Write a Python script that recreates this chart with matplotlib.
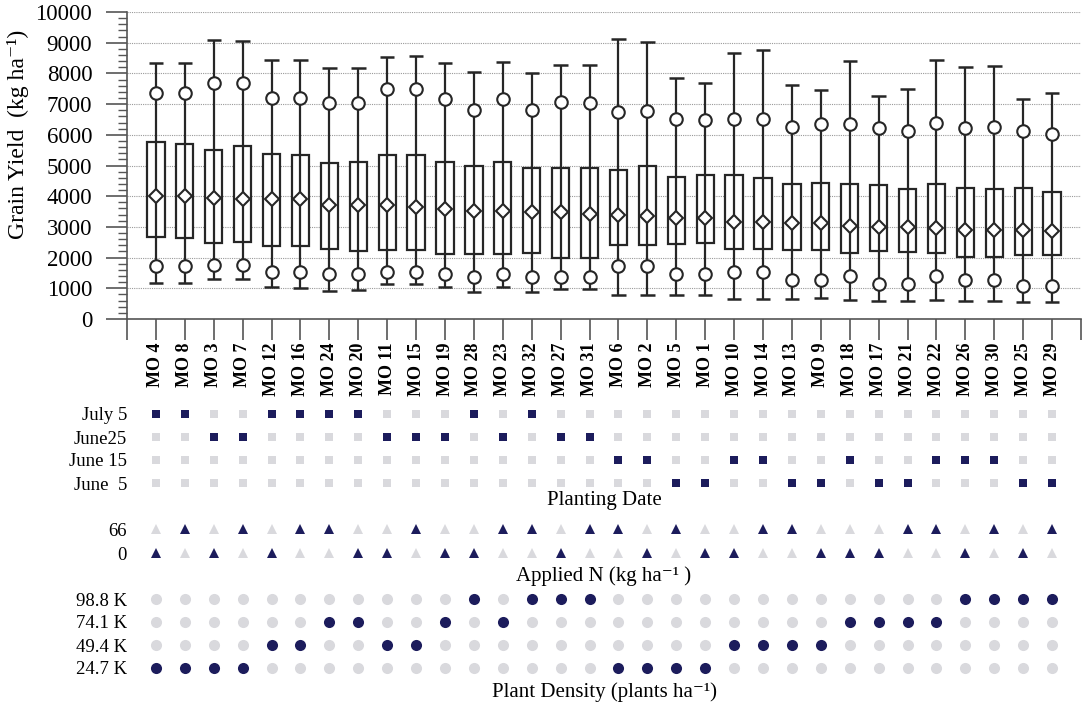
import matplotlib
matplotlib.use("Agg")
import matplotlib.pyplot as plt
from matplotlib.ticker import MultipleLocator, FixedLocator
import numpy as np

plt.rcParams['font.family'] = ['Liberation Serif', 'DejaVu Serif']

hybrids = ["MO 4", "MO 8", "MO 3", "MO 7", "MO 12", "MO 16", "MO 24", "MO 20",
           "MO 11", "MO 15", "MO 19", "MO 28", "MO 23", "MO 32", "MO 27", "MO 31",
           "MO 6", "MO 2", "MO 5", "MO 1", "MO 10", "MO 14", "MO 13", "MO 9",
           "MO 18", "MO 17", "MO 21", "MO 22", "MO 26", "MO 30", "MO 25", "MO 29"]

whisker_high = [8350, 8350, 9080, 9060, 8450, 8450, 8170, 8170, 8520, 8570, 8330, 8050,
                8360, 8020, 8260, 8260, 9130, 9030, 7840, 7680, 8670, 8750, 7610, 7450,
                8400, 7280, 7480, 8430, 8220, 8240, 7180, 7370]
p90 = [7370, 7360, 7680, 7700, 7200, 7200, 7020, 7020, 7490, 7500, 7170, 6820,
       7170, 6800, 7080, 7050, 6750, 6770, 6520, 6480, 6520, 6510, 6250, 6340,
       6350, 6210, 6130, 6370, 6210, 6270, 6110, 6030]
q3 = [5750, 5710, 5520, 5620, 5370, 5340, 5090, 5120, 5330, 5330, 5100, 4980,
      5100, 4930, 4930, 4930, 4850, 4990, 4620, 4680, 4700, 4590, 4400, 4420,
      4400, 4360, 4250, 4400, 4270, 4250, 4270, 4130]
mean = [4000, 4000, 3950, 3920, 3900, 3900, 3720, 3720, 3700, 3660, 3590, 3520,
        3510, 3500, 3470, 3430, 3400, 3360, 3300, 3280, 3170, 3160, 3140, 3120,
        3020, 2990, 2990, 2980, 2910, 2890, 2900, 2870]
q1 = [2670, 2650, 2460, 2500, 2370, 2370, 2270, 2210, 2250, 2250, 2120, 2120,
      2110, 2140, 2000, 2000, 2400, 2420, 2450, 2460, 2280, 2280, 2260, 2260,
      2140, 2200, 2180, 2150, 2020, 2010, 2090, 2080]
p10 = [1730, 1730, 1750, 1750, 1540, 1540, 1470, 1470, 1520, 1520, 1450, 1360,
       1450, 1360, 1380, 1380, 1730, 1730, 1460, 1460, 1520, 1520, 1270, 1270,
       1390, 1130, 1130, 1390, 1280, 1280, 1070, 1070]
whisker_low = [1180, 1180, 1300, 1300, 1030, 1010, 920, 940, 1140, 1140, 1030, 880,
               1030, 880, 980, 980, 780, 780, 770, 770, 660, 660, 660, 680,
               620, 580, 580, 620, 590, 590, 550, 550]

planting_dates = ["June  5", "June 15", "June25", "July 5"]
planting_idx = [3, 3, 2, 2, 3, 3, 3, 3, 2, 2, 2, 3, 2, 3, 2, 2,
                1, 1, 0, 0, 1, 1, 0, 0, 1, 0, 0, 1, 1, 1, 0, 0]
n_levels = ["0", "66"]
n_idx = [0, 1, 0, 1, 0, 1, 1, 0, 0, 1, 0, 0, 1, 1, 0, 1,
         1, 0, 1, 0, 0, 1, 1, 0, 0, 0, 1, 1, 0, 1, 0, 1]
densities = ["24.7 K", "49.4 K", "74.1 K", "98.8 K"]
density_idx = [0, 0, 0, 0, 1, 1, 2, 2, 1, 1, 2, 3, 2, 3, 3, 3,
               0, 0, 0, 0, 1, 1, 1, 1, 2, 2, 2, 2, 3, 3, 3, 3]

NAVY = "#1c1c5c"
LIGHT = "#d9d9dd"
LINE = "#262626"

W, H = 1084, 709
fig = plt.figure(figsize=(W / 100, H / 100), dpi=100)

def ax_px(left, top, right, bottom):
    return fig.add_axes([left / W, 1 - bottom / H, (right - left) / W, (bottom - top) / H])

x = np.arange(1, len(hybrids) + 1)
wh = np.array(whisker_high); wl = np.array(whisker_low)
b1 = np.array(q1); b3 = np.array(q3)

ax = ax_px(127, 12, 1081, 319)
ax.set_xlim(0, len(hybrids) + 1)
ax.set_ylim(0, 10000)
ax.yaxis.set_major_locator(MultipleLocator(1000))
ax.yaxis.set_minor_locator(MultipleLocator(200))
ax.grid(axis='y', which='major', linestyle=(0, (1, 1)), color='#9a9a9a', linewidth=0.8, zorder=0)
ax.set_axisbelow(True)
for s in ['top', 'right']:
    ax.spines[s].set_visible(False)
for s in ['left', 'bottom']:
    ax.spines[s].set_color('#555555')
    ax.spines[s].set_linewidth(1.2)

ax.vlines(x, wl, wh, color=LINE, linewidth=1.6, zorder=3)
ax.hlines(wh, x - 0.25, x + 0.25, color=LINE, linewidth=1.8, zorder=3)
ax.hlines(wl, x - 0.25, x + 0.25, color=LINE, linewidth=1.8, zorder=3)
ax.bar(x, b3 - b1, bottom=b1, width=0.6, facecolor='white', edgecolor=LINE, linewidth=1.6, zorder=2)
ax.plot(x, mean, linestyle='none', marker='D', markersize=7.5, markerfacecolor='white',
        markeredgecolor=LINE, markeredgewidth=1.5, zorder=4)
ax.plot(x, p90, linestyle='none', marker='o', markersize=9, markerfacecolor='white',
        markeredgecolor=LINE, markeredgewidth=1.5, zorder=4)
ax.plot(x, p10, linestyle='none', marker='o', markersize=9, markerfacecolor='white',
        markeredgecolor=LINE, markeredgewidth=1.5, zorder=4)

ax.set_xticks(x)
ax.set_xticklabels(hybrids, rotation=90, fontweight='bold', fontsize=13)
ax.xaxis.set_minor_locator(FixedLocator([0, len(hybrids) + 1]))
ax.tick_params(axis='x', which='both', direction='out', length=15, width=1.2, color='#555555', pad=2)
ax.tick_params(axis='y', which='major', direction='out', length=15, width=1.2, color='#555555',
               labelsize=16.5, pad=10)
ax.tick_params(axis='y', which='minor', direction='out', length=6.5, width=1.0, color='#555555')
ax.set_ylabel("Grain Yield  (kg ha\u207b\u00b9)", fontsize=17)
ax.yaxis.set_label_coords(-0.103, 0.6)

def indicator(top, bottom, levels, idx, marker, ms, title, title_y):
    a = ax_px(127, top, 1081, bottom)
    a.set_xlim(0, len(hybrids) + 1)
    a.set_ylim(-0.5, len(levels) - 0.5)
    for s in a.spines.values():
        s.set_visible(False)
    a.set_xticks([])
    a.set_yticks(range(len(levels)))
    a.set_yticklabels(levels, fontsize=13.5)
    a.tick_params(axis='y', length=0, pad=0)
    idx = np.array(idx)
    for lv in range(len(levels)):
        on = idx == lv
        a.plot(x[~on], np.full((~on).sum(), lv), linestyle='none', marker=marker, markersize=ms,
               color=LIGHT, markeredgewidth=0)
        a.plot(x[on], np.full(on.sum(), lv), linestyle='none', marker=marker, markersize=ms,
               color=NAVY, markeredgewidth=0)
    fig.text((127 + 1081) / 2 / W, 1 - title_y / H, title, ha='center', va='center', fontsize=15)
    return a

indicator(402.5, 494.5, planting_dates, planting_idx, 's', 6.2, "Planting Date", 500)
indicator(517, 565, n_levels, n_idx, '^', 7.0, "Applied N (kg ha\u207b\u00b9 )", 576)
indicator(587.5, 679.5, densities, density_idx, 'o', 8.0, "Plant Density (plants ha\u207b\u00b9)", 692)

fig.savefig("out.png", dpi=100)
